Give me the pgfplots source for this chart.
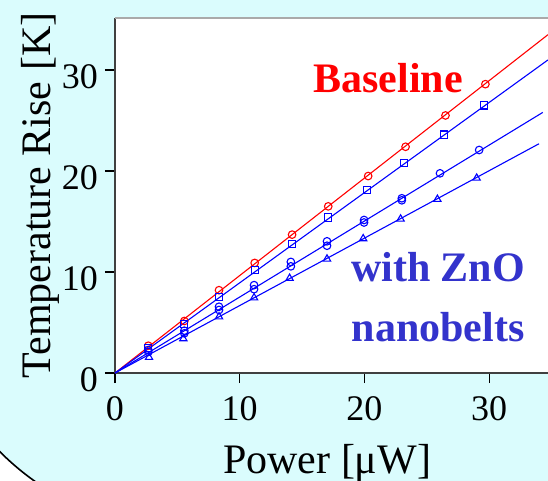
\documentclass[border=0pt]{standalone}
\usepackage{fontspec}
\setmainfont{Liberation Serif}
\usepackage{pgfplots}
\pgfplotsset{compat=1.18}
\definecolor{bgcyan}{RGB}{218,252,253}
\definecolor{txtblue}{RGB}{51,51,204}
\definecolor{frametop}{RGB}{170,170,170}
\definecolor{framedark}{RGB}{64,64,64}
\begin{document}
\begin{tikzpicture}
\fill[bgcyan] (-115pt,-108pt) rectangle (433pt,373pt);
\begin{scope}
\clip (-115pt,-108pt) rectangle (-35pt,-28pt);
\fill[white] (-115pt,-108pt) rectangle (-35pt,-28pt);
\fill[bgcyan] (76pt,112pt) circle (270pt);
\draw[black, line width=1.6pt] (76pt,112pt) circle (270pt);
\end{scope}
\path[use as bounding box] (-115pt,-108pt) rectangle (433pt,373pt);
\begin{axis}[
  at={(0,0)}, anchor=south west, scale only axis,
  width=433pt, height=355pt,
  xmin=0, xmax=34.72, ymin=0, ymax=35.15,
  axis lines*=left,
  axis line style={line width=1.6pt, framedark, -},
  axis background/.style={fill=white},
  xtick={0,10,20,30}, ytick={0,10,20,30},
  tick align=outside, major tick length=10pt,
  tick style={line width=1.2pt, black},
  /pgf/number format/assume math mode=true,
  ticklabel style={font=\fontsize{36}{36}\selectfont, inner sep=0pt},
  xticklabel style={anchor=north, yshift=-13pt},
  yticklabel style={anchor=east, xshift=-7pt, yshift=-7pt},
  xlabel={Power [μW]},
  ylabel={Temperature Rise [K]},
  label style={font=\fontsize{42}{42}\selectfont},
  xlabel style={at={(axis description cs:0.490,-0.2817)}, anchor=base},
  ylabel style={at={(axis description cs:-0.150,0.5)}, anchor=base, rotate=0},
]
% fitted lines
\addplot[red, line width=1.1pt] coordinates {(0,0) (34.72,33.5)};
\addplot[blue, line width=1.1pt] coordinates {(0,0) (34.72,31.0)};
\addplot[blue, line width=1.1pt] coordinates {(0,0) (34.3,25.8)};
\addplot[blue, line width=1.1pt] coordinates {(0,0) (34.0,22.7)};
% baseline circles
\addplot[only marks, red, mark=o, mark size=3.8pt, mark options={line width=1.1pt}] coordinates {
(2.67,2.7) (5.56,5.15) (8.34,8.2) (11.2,10.9) (14.2,13.7) (17.1,16.5) (20.3,19.5) (23.3,22.4) (26.5,25.5) (29.7,28.6)};
% squares
\addplot[only marks, blue, mark=square, mark size=3.6pt, mark options={line width=1.1pt}] coordinates {
(2.67,2.45) (5.56,4.85) (8.34,7.55) (11.2,10.2) (14.2,12.8) (17.1,15.4) (20.2,18.1) (23.2,20.8) (26.4,23.6) (29.6,26.5)};
% circles A
\addplot[only marks, blue, mark=o, mark size=3.8pt, mark options={line width=1.1pt}] coordinates {
(2.67,2.28) (5.56,4.19) (8.34,6.56) (11.15,8.7) (14.1,11.0) (17.0,13.04) (19.97,15.15) (23.0,17.3) (26.06,19.77) (29.2,22.08)};
% circles B
\addplot[only marks, blue, mark=o, mark size=3.8pt, mark options={line width=1.1pt}] coordinates {
(2.67,2.08) (5.56,3.93) (8.34,6.24) (11.15,8.3) (14.1,10.56) (17.0,12.6) (19.97,14.9) (23.0,17.1)};
% triangles
\addplot[only marks, blue, mark=triangle, mark size=4.2pt, mark options={line width=1.1pt}] coordinates {
(2.73,1.55) (5.48,3.4) (8.34,5.57) (11.15,7.45) (14.0,9.38) (17.0,11.29) (19.9,13.3) (22.9,15.25) (25.85,17.2) (29.0,19.3)};
\node[anchor=base, red, font=\bfseries\fontsize{42}{42}\selectfont] at (axis cs:21.9,27.8) {Baseline};
\node[anchor=base, txtblue, font=\bfseries\fontsize{42}{42}\selectfont] at (axis cs:25.9,9.04) {with ZnO};
\node[anchor=base, txtblue, font=\bfseries\fontsize{42}{42}\selectfont] at (axis cs:25.9,3.1) {nanobelts};
\end{axis}
\draw[frametop, line width=2pt] (0,355pt) -- (433pt,355pt);
\end{tikzpicture}
\end{document}
